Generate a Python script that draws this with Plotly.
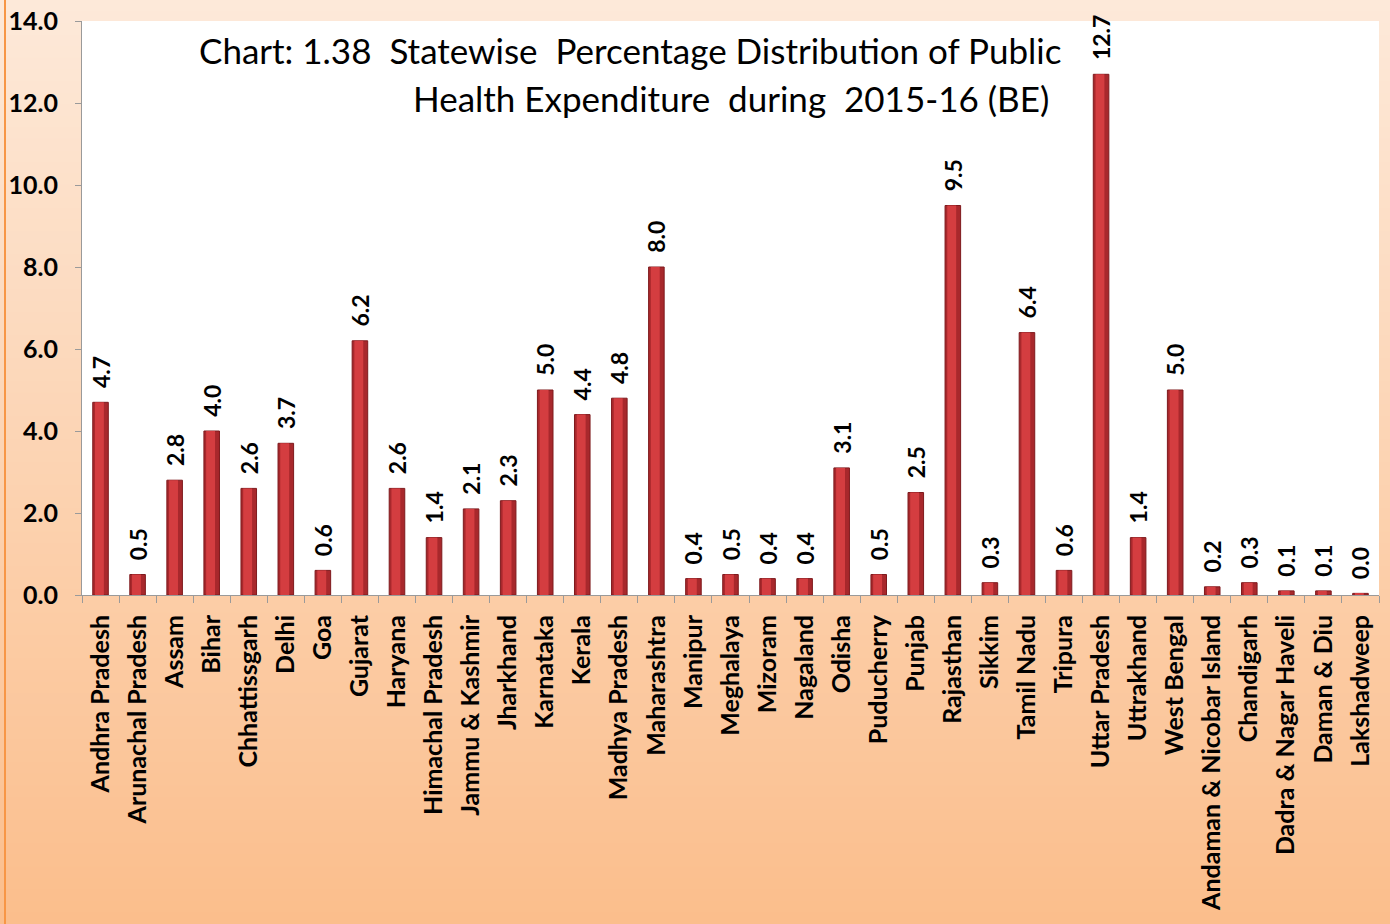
import plotly.graph_objects as go

states = [
    "Andhra Pradesh", "Arunachal Pradesh", "Assam", "Bihar", "Chhattissgarh",
    "Delhi", "Goa", "Gujarat", "Haryana", "Himachal Pradesh", "Jammu & Kashmir",
    "Jharkhand", "Karnataka", "Kerala", "Madhya Pradesh", "Maharashtra",
    "Manipur", "Meghalaya", "Mizoram", "Nagaland", "Odisha", "Puducherry",
    "Punjab", "Rajasthan", "Sikkim", "Tamil Nadu", "Tripura", "Uttar Pradesh",
    "Uttrakhand", "West Bengal", "Andaman & Nicobar Island", "Chandigarh",
    "Dadra & Nagar Haveli", "Daman & Diu", "Lakshadweep",
]
share_pct = [
    4.7, 0.5, 2.8, 4.0, 2.6,
    3.7, 0.6, 6.2, 2.6, 1.4, 2.1,
    2.3, 5.0, 4.4, 4.8, 8.0,
    0.4, 0.5, 0.4, 0.4, 3.1, 0.5,
    2.5, 9.5, 0.3, 6.4, 0.6, 12.7,
    1.4, 5.0, 0.2, 0.3,
    0.1, 0.1, 0.04,
]
y_ticks = [0, 2, 4, 6, 8, 10, 12, 14]
title_lines = [
    "Chart: 1.38  Statewise  Percentage Distribution of Public",
    "Health Expenditure  during  2015-16 (BE)",
]

W, H = 1390, 924
FONT = "Lato"
top_m, bot_m, left_m, right_m = 21, 329, 82, 11
ph = H - top_m - bot_m
pw = W - left_m - right_m

fig = go.Figure()
# darker outer body of each bar, carrying the value label
fig.add_trace(go.Bar(
    x=states,
    y=share_pct,
    width=0.42,
    marker=dict(color="#A8282C", line=dict(color="#7E1A1D", width=1)),
    text=[f"{v:.1f}" for v in share_pct],
    texttemplate="\u00a0\u00a0%{text}",
    textposition="outside",
    textangle=-90,
    constraintext="none",
    textfont=dict(family=FONT, size=23, color="#000000", weight="bold"),
    cliponaxis=False,
    hoverinfo="x+y",
))
# brighter core for a rounded look
fig.add_trace(go.Bar(
    x=states,
    y=share_pct,
    width=0.24,
    offset=-0.15,
    marker=dict(color="#D43D40", line=dict(width=0)),
    hoverinfo="skip",
))

# peach-to-orange vertical gradient behind the whole figure
shapes = []
n_bands = 80
top_rgb = (253, 233, 217)
bot_rgb = (251, 190, 140)
for i in range(n_bands):
    t = i / (n_bands - 1)
    r = round(top_rgb[0] + (bot_rgb[0] - top_rgb[0]) * t)
    g = round(top_rgb[1] + (bot_rgb[1] - top_rgb[1]) * t)
    b = round(top_rgb[2] + (bot_rgb[2] - top_rgb[2]) * t)
    py0 = H * i / n_bands
    py1 = H * (i + 1) / n_bands + 1
    y_top = (H - bot_m - py0) / ph
    y_bot = (H - bot_m - py1) / ph
    shapes.append(dict(
        type="rect", xref="paper", yref="paper",
        x0=-left_m / pw, x1=1 + right_m / pw, y0=y_bot, y1=y_top,
        fillcolor=f"rgb({r},{g},{b})", layer="below", line=dict(width=0),
    ))
# white plotting area
shapes.append(dict(
    type="rect", xref="paper", yref="paper", x0=0, x1=1, y0=0, y1=1,
    fillcolor="white", layer="below", line=dict(width=0),
))
# orange rule at the left edge
shapes.append(dict(
    type="line", xref="paper", yref="paper",
    x0=-(left_m - 5) / pw, x1=-(left_m - 5) / pw,
    y0=-bot_m / ph, y1=1 + top_m / ph,
    line=dict(color="#F79646", width=2), layer="above",
))

annotations = [
    dict(text=title_lines[0], xref="paper", yref="paper",
         x=(630 - left_m) / pw, y=(H - bot_m - 50) / ph,
         xanchor="center", yanchor="middle", showarrow=False,
         font=dict(family=FONT, size=35, color="#000000")),
    dict(text=title_lines[1], xref="paper", yref="paper",
         x=(731 - left_m) / pw, y=(H - bot_m - 98) / ph,
         xanchor="center", yanchor="middle", showarrow=False,
         font=dict(family=FONT, size=35, color="#000000")),
]

fig.update_layout(
    width=W, height=H,
    margin=dict(l=left_m, r=right_m, t=top_m, b=bot_m, pad=0,
                autoexpand=False),
    paper_bgcolor="rgba(0,0,0,0)",
    plot_bgcolor="rgba(0,0,0,0)",
    shapes=shapes,
    annotations=annotations,
    showlegend=False,
    barmode="overlay",
    xaxis=dict(
        type="category",
        automargin=False,
        tickangle=-90,
        tickson="boundaries",
        ticks="outside", ticklen=7, tickcolor="#9A9A9A", tickwidth=1,
        ticklabelstandoff=9,
        showline=True, linecolor="#9A9A9A", linewidth=1,
        showgrid=False,
        tickfont=dict(family=FONT, size=25, color="#000000", weight="bold"),
    ),
    yaxis=dict(
        range=[0, 14],
        automargin=False,
        tickvals=y_ticks,
        ticktext=[f"{v:.1f}" for v in y_ticks],
        ticks="outside", ticklen=6, tickcolor="#9A9A9A", tickwidth=1,
        ticklabelstandoff=12,
        showline=True, linecolor="#9A9A9A", linewidth=1,
        showgrid=False, zeroline=False,
        tickfont=dict(family=FONT, size=25, color="#000000", weight="bold"),
    ),
)

fig.write_html("out.html")
